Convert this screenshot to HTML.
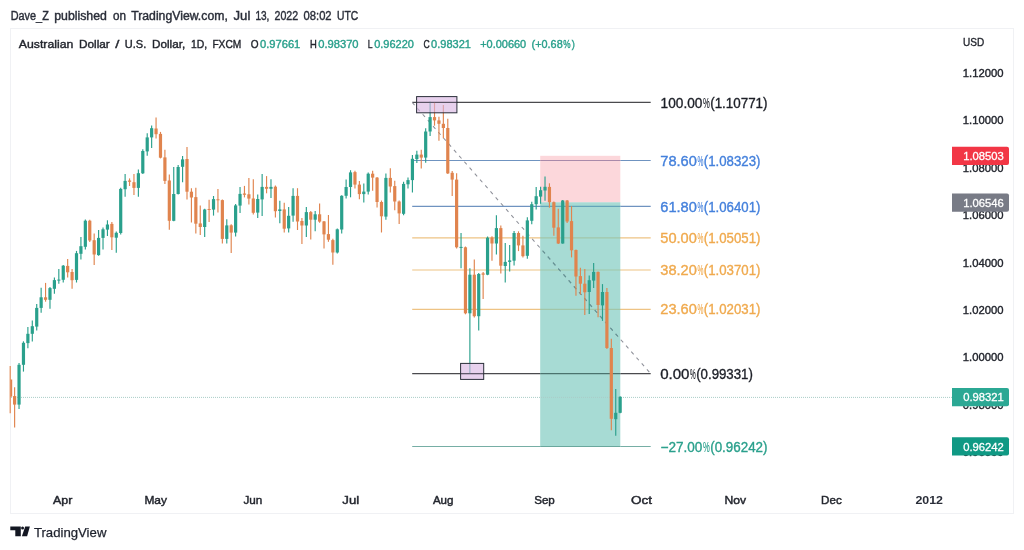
<!DOCTYPE html>
<html lang="en"><head><meta charset="utf-8"><title>AUDUSD chart - TradingView</title>
<style>html,body{margin:0;padding:0;background:#fff;}body{width:1024px;height:550px;overflow:hidden;font-family:'Liberation Sans', sans-serif;}svg{display:block;}text{font-family:'Liberation Sans', sans-serif;}</style>
</head><body>
<svg width="1024" height="550" viewBox="0 0 1024 550">
<rect x="0" y="0" width="1024" height="550" fill="#ffffff"/>
<rect x="10.5" y="28.5" width="1003" height="485" fill="#ffffff" stroke="#f0f1f4" stroke-width="1"/>
<g id="header">
<text x="10.7" y="19.9" font-size="12" fill="#2a2e39" textLength="38.1" lengthAdjust="spacingAndGlyphs" stroke="#2a2e39" stroke-width="0.4">Dave_Z</text>
<text x="54.2" y="19.9" font-size="12" fill="#2a2e39" textLength="52.7" lengthAdjust="spacingAndGlyphs" stroke="#2a2e39" stroke-width="0.4">published</text>
<text x="113" y="19.9" font-size="12" fill="#2a2e39" textLength="13" lengthAdjust="spacingAndGlyphs" stroke="#2a2e39" stroke-width="0.4">on</text>
<text x="131.2" y="19.9" font-size="12" fill="#2a2e39" textLength="96.6" lengthAdjust="spacingAndGlyphs" stroke="#2a2e39" stroke-width="0.4">TradingView.com,</text>
<text x="233.5" y="19.9" font-size="12" fill="#2a2e39" textLength="16.8" lengthAdjust="spacingAndGlyphs" stroke="#2a2e39" stroke-width="0.4">Jul</text>
<text x="255.4" y="19.9" font-size="12" fill="#2a2e39" textLength="14" lengthAdjust="spacingAndGlyphs" stroke="#2a2e39" stroke-width="0.4">13,</text>
<text x="274.5" y="19.9" font-size="12" fill="#2a2e39" textLength="23.6" lengthAdjust="spacingAndGlyphs" stroke="#2a2e39" stroke-width="0.4">2022</text>
<text x="303.6" y="19.9" font-size="12" fill="#2a2e39" textLength="28" lengthAdjust="spacingAndGlyphs" stroke="#2a2e39" stroke-width="0.4">08:02</text>
<text x="337.1" y="19.9" font-size="12" fill="#2a2e39" textLength="21.2" lengthAdjust="spacingAndGlyphs" stroke="#2a2e39" stroke-width="0.4">UTC</text>
</g>
<g id="legend">
<text x="18.8" y="47.8" font-size="11" fill="#23262e" textLength="54.5" lengthAdjust="spacingAndGlyphs" stroke="#23262e" stroke-width="0.38">Australian</text>
<text x="79" y="47.8" font-size="11" fill="#23262e" textLength="30.8" lengthAdjust="spacingAndGlyphs" stroke="#23262e" stroke-width="0.38">Dollar</text>
<text x="115.2" y="47.8" font-size="11" fill="#23262e" textLength="4.1" lengthAdjust="spacingAndGlyphs" stroke="#23262e" stroke-width="0.38">/</text>
<text x="124.8" y="47.8" font-size="11" fill="#23262e" textLength="21.4" lengthAdjust="spacingAndGlyphs" stroke="#23262e" stroke-width="0.38">U.S.</text>
<text x="152" y="47.8" font-size="11" fill="#23262e" textLength="33.2" lengthAdjust="spacingAndGlyphs" stroke="#23262e" stroke-width="0.38">Dollar,</text>
<text x="190.9" y="47.8" font-size="11" fill="#23262e" textLength="16.2" lengthAdjust="spacingAndGlyphs" stroke="#23262e" stroke-width="0.38">1D,</text>
<text x="212.4" y="47.8" font-size="11" fill="#23262e" textLength="28.9" lengthAdjust="spacingAndGlyphs" stroke="#23262e" stroke-width="0.38">FXCM</text>
<text x="250.8" y="47.8" font-size="11" fill="#23262e" textLength="7.8" lengthAdjust="spacingAndGlyphs" stroke="#23262e" stroke-width="0.38">O</text>
<text x="260" y="47.8" font-size="11" fill="#2aa08c" textLength="40.3" lengthAdjust="spacingAndGlyphs" stroke="#2aa08c" stroke-width="0.38">0.97661</text>
<text x="310.1" y="47.8" font-size="11" fill="#23262e" textLength="6.8" lengthAdjust="spacingAndGlyphs" stroke="#23262e" stroke-width="0.38">H</text>
<text x="318.2" y="47.8" font-size="11" fill="#2aa08c" textLength="40.4" lengthAdjust="spacingAndGlyphs" stroke="#2aa08c" stroke-width="0.38">0.98370</text>
<text x="367.8" y="47.8" font-size="11" fill="#23262e" textLength="4.8" lengthAdjust="spacingAndGlyphs" stroke="#23262e" stroke-width="0.38">L</text>
<text x="374.2" y="47.8" font-size="11" fill="#2aa08c" textLength="39.7" lengthAdjust="spacingAndGlyphs" stroke="#2aa08c" stroke-width="0.38">0.96220</text>
<text x="423.4" y="47.8" font-size="11" fill="#23262e" textLength="6.2" lengthAdjust="spacingAndGlyphs" stroke="#23262e" stroke-width="0.38">C</text>
<text x="431.1" y="47.8" font-size="11" fill="#2aa08c" textLength="39.8" lengthAdjust="spacingAndGlyphs" stroke="#2aa08c" stroke-width="0.38">0.98321</text>
<text x="480.2" y="47.8" font-size="11" fill="#2aa08c" textLength="46" lengthAdjust="spacingAndGlyphs" stroke="#2aa08c" stroke-width="0.38">+0.00660</text>
<text x="531.6" y="47.8" font-size="11" fill="#2aa08c" textLength="31.1" lengthAdjust="spacingAndGlyphs" stroke="#2aa08c" stroke-width="0.38">(+0.68</text>
<text x="563.3" y="47.8" font-size="11" fill="#2aa08c" textLength="7.3" lengthAdjust="spacingAndGlyphs" stroke="#2aa08c" stroke-width="0.38">%</text>
<text x="571.8" y="47.8" font-size="11" fill="#2aa08c" textLength="3.1" lengthAdjust="spacingAndGlyphs" stroke="#2aa08c" stroke-width="0.38">)</text>
</g>
<defs><clipPath id="inpos"><rect x="540.2" y="155.8" width="80.1" height="290.7"/></clipPath></defs>
<g id="fib-under" fill="none">
<line x1="412.2" y1="237.8" x2="650.7" y2="237.8" stroke="#eec384" stroke-width="1.2"/>
<line x1="412.2" y1="270" x2="650.7" y2="270" stroke="#eec384" stroke-width="1.2"/>
<line x1="412.2" y1="309.3" x2="650.7" y2="309.3" stroke="#eec384" stroke-width="1.2"/>
</g>
<g id="position" fill-opacity="0.65">
<rect x="540.2" y="155.8" width="80.1" height="46.5" fill="#fac1c8"/>
<rect x="540.2" y="202.3" width="80.1" height="244.2" fill="#78c8bd"/>
</g>
<g id="fib-over" fill="none">
<line x1="412.2" y1="102.4" x2="650.7" y2="102.4" stroke="#4a4a4e" stroke-width="1.25"/>
<path d="M412.2 160.5H540.2M620.3 160.5H650.7" stroke="#6f93c0" stroke-width="1.15"/>
<path d="M540.2 160.5H620.3" stroke="#a98aaa" stroke-width="1.15"/>
<path d="M412.2 206.4H540.2M620.3 206.4H650.7" stroke="#6f93c0" stroke-width="1.15"/>
<path d="M540.2 206.4H620.3" stroke="#64a5b9" stroke-width="1.15"/>
<path d="M412.2 373.7H540.2M620.3 373.7H650.7" stroke="#4a4a4e" stroke-width="1.25"/>
<path d="M540.2 373.7H620.3" stroke="#4b736e" stroke-width="1.25"/>
<path d="M412.2 446.5H540.2M620.3 446.5H650.7" stroke="#76aea5" stroke-width="1.2"/>
<path d="M540.2 446.5H620.3" stroke="#6aa79d" stroke-width="1.2"/>
<line x1="412.2" y1="102.4" x2="650.7" y2="373.7" stroke-width="1.05" stroke-dasharray="3.6 4.3" stroke="#8e9099"/>
<line x1="412.2" y1="102.4" x2="650.7" y2="373.7" stroke-width="1.05" stroke-dasharray="3.6 4.3" stroke="#5f9696" clip-path="url(#inpos)"/>
</g>
<line x1="11" y1="397.4" x2="952" y2="397.4" stroke="#a9cdc7" stroke-width="1" stroke-dasharray="1 1"/>
<g id="candles">
<path d="M10.2 366.1V413.3" stroke="#e0844e" stroke-width="1.15"/><rect x="10.5" y="379.5" width="1.7" height="17.2" fill="#e0844e"/>
<path d="M14.62 387.2V427.6" stroke="#e0844e" stroke-width="1.15"/><rect x="13.02" y="396.1" width="3.2" height="8.5" fill="#e0844e"/>
<path d="M19.04 363V408.9" stroke="#2aa08c" stroke-width="1.15"/><rect x="17.44" y="364.8" width="3.2" height="39.8" fill="#2aa08c"/>
<path d="M23.46 341.3V371.6" stroke="#2aa08c" stroke-width="1.15"/><rect x="21.86" y="342.8" width="3.2" height="22" fill="#2aa08c"/>
<path d="M27.88 327V348.3" stroke="#2aa08c" stroke-width="1.15"/><rect x="26.28" y="333.8" width="3.2" height="9.3" fill="#2aa08c"/>
<path d="M32.3 320.6V341.5" stroke="#2aa08c" stroke-width="1.15"/><rect x="30.7" y="326.2" width="3.2" height="7.6" fill="#2aa08c"/>
<path d="M36.72 304V330.6" stroke="#2aa08c" stroke-width="1.15"/><rect x="35.12" y="307.9" width="3.2" height="18.7" fill="#2aa08c"/>
<path d="M41.14 287.7V312.8" stroke="#2aa08c" stroke-width="1.15"/><rect x="39.54" y="297.3" width="3.2" height="10.6" fill="#2aa08c"/>
<path d="M45.56 282.9V301.7" stroke="#e0844e" stroke-width="1.15"/><rect x="43.96" y="297.3" width="3.2" height="2.5" fill="#e0844e"/>
<path d="M49.98 287.1V308.7" stroke="#2aa08c" stroke-width="1.15"/><rect x="48.38" y="288.1" width="3.2" height="11.7" fill="#2aa08c"/>
<path d="M54.4 277.5V293.7" stroke="#2aa08c" stroke-width="1.15"/><rect x="52.8" y="280.1" width="3.2" height="8.7" fill="#2aa08c"/>
<path d="M58.82 269.1V283.7" stroke="#2aa08c" stroke-width="1.15"/><rect x="57.22" y="279.6" width="3.2" height="1" fill="#2aa08c"/>
<path d="M63.24 265V282.4" stroke="#2aa08c" stroke-width="1.15"/><rect x="61.64" y="265.7" width="3.2" height="14.1" fill="#2aa08c"/>
<path d="M67.66 258.9V277.6" stroke="#e0844e" stroke-width="1.15"/><rect x="66.06" y="265.9" width="3.2" height="6.4" fill="#e0844e"/>
<path d="M72.08 269.1V288.8" stroke="#e0844e" stroke-width="1.15"/><rect x="70.48" y="272" width="3.2" height="8.2" fill="#e0844e"/>
<path d="M76.5 250.9V282.5" stroke="#2aa08c" stroke-width="1.15"/><rect x="74.9" y="253.2" width="3.2" height="26.7" fill="#2aa08c"/>
<path d="M80.92 236.9V259.6" stroke="#2aa08c" stroke-width="1.15"/><rect x="79.32" y="246.2" width="3.2" height="7.6" fill="#2aa08c"/>
<path d="M85.34 219.5V249.6" stroke="#2aa08c" stroke-width="1.15"/><rect x="83.74" y="220.7" width="3.2" height="26.1" fill="#2aa08c"/>
<path d="M89.76 219.8V242" stroke="#e0844e" stroke-width="1.15"/><rect x="88.16" y="220.7" width="3.2" height="19.8" fill="#e0844e"/>
<path d="M94.18 233.5V264.9" stroke="#e0844e" stroke-width="1.15"/><rect x="92.58" y="240.2" width="3.2" height="14.3" fill="#e0844e"/>
<path d="M98.6 230V255.7" stroke="#2aa08c" stroke-width="1.15"/><rect x="97" y="237.9" width="3.2" height="17.2" fill="#2aa08c"/>
<path d="M103.02 227.5V249.4" stroke="#2aa08c" stroke-width="1.15"/><rect x="101.42" y="229.3" width="3.2" height="8.6" fill="#2aa08c"/>
<path d="M107.44 220.3V236" stroke="#2aa08c" stroke-width="1.15"/><rect x="105.84" y="224.5" width="3.2" height="5.1" fill="#2aa08c"/>
<path d="M111.86 222V250" stroke="#e0844e" stroke-width="1.15"/><rect x="110.26" y="223.9" width="3.2" height="13.4" fill="#e0844e"/>
<path d="M116.28 231.6V252.8" stroke="#2aa08c" stroke-width="1.15"/><rect x="114.68" y="232.8" width="3.2" height="4.9" fill="#2aa08c"/>
<path d="M120.7 187.7V234.6" stroke="#2aa08c" stroke-width="1.15"/><rect x="119.1" y="188.9" width="3.2" height="44.1" fill="#2aa08c"/>
<path d="M125.12 173.9V196.8" stroke="#2aa08c" stroke-width="1.15"/><rect x="123.52" y="180.9" width="3.2" height="8.3" fill="#2aa08c"/>
<path d="M129.54 178.4V186" stroke="#e0844e" stroke-width="1.15"/><rect x="127.94" y="180.5" width="3.2" height="1.3" fill="#e0844e"/>
<path d="M133.96 173.9V194.9" stroke="#e0844e" stroke-width="1.15"/><rect x="132.36" y="182.2" width="3.2" height="5.7" fill="#e0844e"/>
<path d="M138.38 169.5V196.8" stroke="#2aa08c" stroke-width="1.15"/><rect x="136.78" y="173.2" width="3.2" height="14.7" fill="#2aa08c"/>
<path d="M142.8 149.2V173.9" stroke="#2aa08c" stroke-width="1.15"/><rect x="141.2" y="151" width="3.2" height="22.3" fill="#2aa08c"/>
<path d="M147.22 133.2V155.8" stroke="#2aa08c" stroke-width="1.15"/><rect x="145.62" y="137.4" width="3.2" height="14" fill="#2aa08c"/>
<path d="M151.64 125.5V147.9" stroke="#2aa08c" stroke-width="1.15"/><rect x="150.04" y="128.2" width="3.2" height="9.2" fill="#2aa08c"/>
<path d="M156.06 117.4V138.6" stroke="#e0844e" stroke-width="1.15"/><rect x="154.46" y="128.5" width="3.2" height="5.7" fill="#e0844e"/>
<path d="M160.48 131.9V158.4" stroke="#e0844e" stroke-width="1.15"/><rect x="158.88" y="133.9" width="3.2" height="23.8" fill="#e0844e"/>
<path d="M164.9 149.7V184.1" stroke="#e0844e" stroke-width="1.15"/><rect x="163.3" y="157.4" width="3.2" height="23.5" fill="#e0844e"/>
<path d="M169.32 174.4V229.7" stroke="#e0844e" stroke-width="1.15"/><rect x="167.72" y="180.5" width="3.2" height="40.3" fill="#e0844e"/>
<path d="M173.74 166.9V221.3" stroke="#2aa08c" stroke-width="1.15"/><rect x="172.14" y="194" width="3.2" height="26.8" fill="#2aa08c"/>
<path d="M178.16 165V194.5" stroke="#2aa08c" stroke-width="1.15"/><rect x="176.56" y="167" width="3.2" height="27" fill="#2aa08c"/>
<path d="M182.58 156.1V182.2" stroke="#2aa08c" stroke-width="1.15"/><rect x="180.98" y="159.4" width="3.2" height="7.4" fill="#2aa08c"/>
<path d="M187 146.9V199.4" stroke="#e0844e" stroke-width="1.15"/><rect x="185.4" y="159" width="3.2" height="32.7" fill="#e0844e"/>
<path d="M191.42 188.2V222.6" stroke="#e0844e" stroke-width="1.15"/><rect x="189.82" y="191.7" width="3.2" height="5.8" fill="#e0844e"/>
<path d="M195.84 187.7V233.5" stroke="#e0844e" stroke-width="1.15"/><rect x="194.24" y="197.1" width="3.2" height="26.6" fill="#e0844e"/>
<path d="M200.26 205.4V235.1" stroke="#e0844e" stroke-width="1.15"/><rect x="198.66" y="223.4" width="3.2" height="3.6" fill="#e0844e"/>
<path d="M204.68 208.8V237" stroke="#2aa08c" stroke-width="1.15"/><rect x="203.08" y="209.5" width="3.2" height="17.5" fill="#2aa08c"/>
<path d="M209.1 199.8V222.1" stroke="#e0844e" stroke-width="1.15"/><rect x="207.5" y="209" width="3.2" height="1" fill="#e0844e"/>
<path d="M213.52 196V215.6" stroke="#2aa08c" stroke-width="1.15"/><rect x="211.92" y="199.1" width="3.2" height="10.5" fill="#2aa08c"/>
<path d="M217.94 188.9V212.4" stroke="#e0844e" stroke-width="1.15"/><rect x="216.34" y="199.3" width="3.2" height="1" fill="#e0844e"/>
<path d="M222.36 199.5V243.4" stroke="#e0844e" stroke-width="1.15"/><rect x="220.76" y="200.1" width="3.2" height="38.8" fill="#e0844e"/>
<path d="M226.78 219.2V243.4" stroke="#2aa08c" stroke-width="1.15"/><rect x="225.18" y="225.4" width="3.2" height="13.5" fill="#2aa08c"/>
<path d="M231.2 224.3V252.9" stroke="#e0844e" stroke-width="1.15"/><rect x="229.6" y="225.3" width="3.2" height="7.3" fill="#e0844e"/>
<path d="M235.62 204.1V236.4" stroke="#2aa08c" stroke-width="1.15"/><rect x="234.02" y="205.4" width="3.2" height="27.2" fill="#2aa08c"/>
<path d="M240.04 186.9V213" stroke="#2aa08c" stroke-width="1.15"/><rect x="238.44" y="193.9" width="3.2" height="11.7" fill="#2aa08c"/>
<path d="M244.46 185.9V197.4" stroke="#e0844e" stroke-width="1.15"/><rect x="242.86" y="193.5" width="3.2" height="1.3" fill="#e0844e"/>
<path d="M248.88 178V204.6" stroke="#e0844e" stroke-width="1.15"/><rect x="247.28" y="194.3" width="3.2" height="4.3" fill="#e0844e"/>
<path d="M253.3 179.3V214.5" stroke="#e0844e" stroke-width="1.15"/><rect x="251.7" y="198.5" width="3.2" height="14.3" fill="#e0844e"/>
<path d="M257.72 194.6V218.1" stroke="#2aa08c" stroke-width="1.15"/><rect x="256.12" y="199" width="3.2" height="13.6" fill="#2aa08c"/>
<path d="M262.14 173.9V216" stroke="#2aa08c" stroke-width="1.15"/><rect x="260.54" y="186.9" width="3.2" height="12.5" fill="#2aa08c"/>
<path d="M266.56 176.1V193.3" stroke="#e0844e" stroke-width="1.15"/><rect x="264.96" y="186.9" width="3.2" height="1.9" fill="#e0844e"/>
<path d="M270.98 179.3V198" stroke="#2aa08c" stroke-width="1.15"/><rect x="269.38" y="186.9" width="3.2" height="1.9" fill="#2aa08c"/>
<path d="M275.4 185.4V217.4" stroke="#e0844e" stroke-width="1.15"/><rect x="273.8" y="186.7" width="3.2" height="24.5" fill="#e0844e"/>
<path d="M279.82 200.7V223.3" stroke="#2aa08c" stroke-width="1.15"/><rect x="278.22" y="209.4" width="3.2" height="1.6" fill="#2aa08c"/>
<path d="M284.24 202.8V232.6" stroke="#e0844e" stroke-width="1.15"/><rect x="282.64" y="209.4" width="3.2" height="19.3" fill="#e0844e"/>
<path d="M288.66 207V232.6" stroke="#2aa08c" stroke-width="1.15"/><rect x="287.06" y="215.8" width="3.2" height="12.6" fill="#2aa08c"/>
<path d="M293.08 188.2V221.7" stroke="#2aa08c" stroke-width="1.15"/><rect x="291.48" y="195.9" width="3.2" height="19.7" fill="#2aa08c"/>
<path d="M297.5 188.2V230" stroke="#e0844e" stroke-width="1.15"/><rect x="295.9" y="195.9" width="3.2" height="25.6" fill="#e0844e"/>
<path d="M301.92 218V244" stroke="#e0844e" stroke-width="1.15"/><rect x="300.32" y="221" width="3.2" height="4.5" fill="#e0844e"/>
<path d="M306.34 207V236.9" stroke="#2aa08c" stroke-width="1.15"/><rect x="304.74" y="212.1" width="3.2" height="13.4" fill="#2aa08c"/>
<path d="M310.76 211V239.5" stroke="#e0844e" stroke-width="1.15"/><rect x="309.16" y="212.1" width="3.2" height="7.6" fill="#e0844e"/>
<path d="M315.18 211.1V231.2" stroke="#2aa08c" stroke-width="1.15"/><rect x="313.58" y="214.3" width="3.2" height="5.4" fill="#2aa08c"/>
<path d="M319.6 203.5V222.7" stroke="#e0844e" stroke-width="1.15"/><rect x="318" y="214.3" width="3.2" height="7.3" fill="#e0844e"/>
<path d="M324.02 221V248.4" stroke="#e0844e" stroke-width="1.15"/><rect x="322.42" y="221.4" width="3.2" height="13" fill="#e0844e"/>
<path d="M328.44 215V241.8" stroke="#e0844e" stroke-width="1.15"/><rect x="326.84" y="234.1" width="3.2" height="5.6" fill="#e0844e"/>
<path d="M332.86 238.8V264.7" stroke="#e0844e" stroke-width="1.15"/><rect x="331.26" y="240.1" width="3.2" height="12.4" fill="#e0844e"/>
<path d="M337.28 228.6V253.5" stroke="#2aa08c" stroke-width="1.15"/><rect x="335.68" y="229.3" width="3.2" height="23.2" fill="#2aa08c"/>
<path d="M341.7 195.2V233.4" stroke="#2aa08c" stroke-width="1.15"/><rect x="340.1" y="195.8" width="3.2" height="33.7" fill="#2aa08c"/>
<path d="M346.12 179.4V198.6" stroke="#2aa08c" stroke-width="1.15"/><rect x="344.52" y="187" width="3.2" height="8.8" fill="#2aa08c"/>
<path d="M350.54 170.2V197.3" stroke="#2aa08c" stroke-width="1.15"/><rect x="348.94" y="172.4" width="3.2" height="14.6" fill="#2aa08c"/>
<path d="M354.96 170.8V188.4" stroke="#e0844e" stroke-width="1.15"/><rect x="353.36" y="172.1" width="3.2" height="12.5" fill="#e0844e"/>
<path d="M359.38 181V199.2" stroke="#e0844e" stroke-width="1.15"/><rect x="357.78" y="184.6" width="3.2" height="9.5" fill="#e0844e"/>
<path d="M363.8 183.5V202.4" stroke="#2aa08c" stroke-width="1.15"/><rect x="362.2" y="191.6" width="3.2" height="2.5" fill="#2aa08c"/>
<path d="M368.22 172.5V194.5" stroke="#2aa08c" stroke-width="1.15"/><rect x="366.62" y="173.7" width="3.2" height="17.9" fill="#2aa08c"/>
<path d="M372.64 170.8V190.7" stroke="#e0844e" stroke-width="1.15"/><rect x="371.04" y="173.7" width="3.2" height="3.9" fill="#e0844e"/>
<path d="M377.06 176.9V207.5" stroke="#e0844e" stroke-width="1.15"/><rect x="375.46" y="177.6" width="3.2" height="24.4" fill="#e0844e"/>
<path d="M381.48 200.5V232.5" stroke="#e0844e" stroke-width="1.15"/><rect x="379.88" y="202" width="3.2" height="14.3" fill="#e0844e"/>
<path d="M385.9 173.4V219.7" stroke="#2aa08c" stroke-width="1.15"/><rect x="384.3" y="177.9" width="3.2" height="38.7" fill="#2aa08c"/>
<path d="M390.32 168.3V192.5" stroke="#e0844e" stroke-width="1.15"/><rect x="388.72" y="177.9" width="3.2" height="8.6" fill="#e0844e"/>
<path d="M394.74 180.7V210.2" stroke="#e0844e" stroke-width="1.15"/><rect x="393.14" y="186.1" width="3.2" height="15.4" fill="#e0844e"/>
<path d="M399.16 200.5V223.9" stroke="#e0844e" stroke-width="1.15"/><rect x="397.56" y="201.5" width="3.2" height="11.9" fill="#e0844e"/>
<path d="M403.58 181.8V215.3" stroke="#2aa08c" stroke-width="1.15"/><rect x="401.98" y="183.9" width="3.2" height="29.9" fill="#2aa08c"/>
<path d="M408 177.6V188.6" stroke="#2aa08c" stroke-width="1.15"/><rect x="406.4" y="180.1" width="3.2" height="4.2" fill="#2aa08c"/>
<path d="M412.42 155V192.5" stroke="#2aa08c" stroke-width="1.15"/><rect x="410.82" y="158.8" width="3.2" height="21.3" fill="#2aa08c"/>
<path d="M416.84 150.7V162.9" stroke="#2aa08c" stroke-width="1.15"/><rect x="415.24" y="154.6" width="3.2" height="4.5" fill="#2aa08c"/>
<path d="M421.26 149.8V168.6" stroke="#e0844e" stroke-width="1.15"/><rect x="419.66" y="154.6" width="3.2" height="3" fill="#e0844e"/>
<path d="M425.68 128.3V162.7" stroke="#2aa08c" stroke-width="1.15"/><rect x="424.08" y="131.5" width="3.2" height="26.1" fill="#2aa08c"/>
<path d="M430.1 101.6V135.9" stroke="#2aa08c" stroke-width="1.15"/><rect x="428.5" y="117.1" width="3.2" height="14.4" fill="#2aa08c"/>
<path d="M434.52 102.2V125.7" stroke="#e0844e" stroke-width="1.15"/><rect x="432.92" y="117.1" width="3.2" height="3.3" fill="#e0844e"/>
<path d="M438.94 116.8V140.8" stroke="#e0844e" stroke-width="1.15"/><rect x="437.34" y="120.4" width="3.2" height="3.4" fill="#e0844e"/>
<path d="M443.36 105.1V138.2" stroke="#e0844e" stroke-width="1.15"/><rect x="441.76" y="123.8" width="3.2" height="4.2" fill="#e0844e"/>
<path d="M447.78 118.7V174" stroke="#e0844e" stroke-width="1.15"/><rect x="446.18" y="128" width="3.2" height="45.4" fill="#e0844e"/>
<path d="M452.2 171.1V196.1" stroke="#e0844e" stroke-width="1.15"/><rect x="450.6" y="172.8" width="3.2" height="6.8" fill="#e0844e"/>
<path d="M456.62 173.3V248.6" stroke="#e0844e" stroke-width="1.15"/><rect x="455.02" y="179.6" width="3.2" height="67.7" fill="#e0844e"/>
<path d="M461.04 232.9V268.3" stroke="#2aa08c" stroke-width="1.15"/><rect x="459.44" y="246.9" width="3.2" height="1" fill="#2aa08c"/>
<path d="M465.46 246.5V314.3" stroke="#e0844e" stroke-width="1.15"/><rect x="463.86" y="247.3" width="3.2" height="66" fill="#e0844e"/>
<path d="M469.88 268.3V373.7" stroke="#2aa08c" stroke-width="1.15"/><rect x="468.28" y="274.7" width="3.2" height="38.6" fill="#2aa08c"/>
<path d="M474.3 259.4V317.5" stroke="#e0844e" stroke-width="1.15"/><rect x="472.7" y="274.7" width="3.2" height="41.5" fill="#e0844e"/>
<path d="M478.72 273V330.6" stroke="#2aa08c" stroke-width="1.15"/><rect x="477.12" y="274" width="3.2" height="42.2" fill="#2aa08c"/>
<path d="M483.14 271.9V299" stroke="#e0844e" stroke-width="1.15"/><rect x="481.54" y="273.4" width="3.2" height="1.3" fill="#e0844e"/>
<path d="M487.56 236.5V275.2" stroke="#2aa08c" stroke-width="1.15"/><rect x="485.96" y="237.7" width="3.2" height="37" fill="#2aa08c"/>
<path d="M491.98 236.2V260.7" stroke="#e0844e" stroke-width="1.15"/><rect x="490.38" y="237.5" width="3.2" height="6" fill="#e0844e"/>
<path d="M496.4 215.3V254.5" stroke="#2aa08c" stroke-width="1.15"/><rect x="494.8" y="228.1" width="3.2" height="15.4" fill="#2aa08c"/>
<path d="M500.82 225.5V273.6" stroke="#e0844e" stroke-width="1.15"/><rect x="499.22" y="228.1" width="3.2" height="37.6" fill="#e0844e"/>
<path d="M505.24 243.1V282.6" stroke="#2aa08c" stroke-width="1.15"/><rect x="503.64" y="261.9" width="3.2" height="4.1" fill="#2aa08c"/>
<path d="M509.66 245.1V271.5" stroke="#2aa08c" stroke-width="1.15"/><rect x="508.06" y="260.4" width="3.2" height="1.5" fill="#2aa08c"/>
<path d="M514.08 230.9V265.5" stroke="#2aa08c" stroke-width="1.15"/><rect x="512.48" y="233" width="3.2" height="27.7" fill="#2aa08c"/>
<path d="M518.5 231.3V251.1" stroke="#e0844e" stroke-width="1.15"/><rect x="516.9" y="233" width="3.2" height="12.4" fill="#e0844e"/>
<path d="M522.92 235.8V257.5" stroke="#e0844e" stroke-width="1.15"/><rect x="521.32" y="245.4" width="3.2" height="10.8" fill="#e0844e"/>
<path d="M527.34 217.2V258.7" stroke="#2aa08c" stroke-width="1.15"/><rect x="525.74" y="220.4" width="3.2" height="35.4" fill="#2aa08c"/>
<path d="M531.76 201.7V224.2" stroke="#2aa08c" stroke-width="1.15"/><rect x="530.16" y="204.2" width="3.2" height="16.6" fill="#2aa08c"/>
<path d="M536.18 186.9V209.6" stroke="#2aa08c" stroke-width="1.15"/><rect x="534.58" y="196.2" width="3.2" height="8" fill="#2aa08c"/>
<path d="M540.6 186.8V203.8" stroke="#2aa08c" stroke-width="1.15"/><rect x="539" y="190.2" width="3.2" height="6.4" fill="#2aa08c"/>
<path d="M545.02 176.6V200.7" stroke="#2aa08c" stroke-width="1.15"/><rect x="543.42" y="186.8" width="3.2" height="3.7" fill="#2aa08c"/>
<path d="M549.44 183.3V207.7" stroke="#e0844e" stroke-width="1.15"/><rect x="547.84" y="186.9" width="3.2" height="15.3" fill="#e0844e"/>
<path d="M553.86 201.5V235.7" stroke="#e0844e" stroke-width="1.15"/><rect x="552.26" y="202.2" width="3.2" height="25.5" fill="#e0844e"/>
<path d="M558.28 208.8V244" stroke="#e0844e" stroke-width="1.15"/><rect x="556.68" y="227.4" width="3.2" height="16.1" fill="#e0844e"/>
<path d="M562.7 200V243.8" stroke="#2aa08c" stroke-width="1.15"/><rect x="561.1" y="200.5" width="3.2" height="43" fill="#2aa08c"/>
<path d="M567.12 200V223.1" stroke="#e0844e" stroke-width="1.15"/><rect x="565.52" y="200.5" width="3.2" height="21" fill="#e0844e"/>
<path d="M571.54 206.1V257.4" stroke="#e0844e" stroke-width="1.15"/><rect x="569.94" y="221.1" width="3.2" height="29.2" fill="#e0844e"/>
<path d="M575.96 249.5V295.8" stroke="#e0844e" stroke-width="1.15"/><rect x="574.36" y="250" width="3.2" height="26.5" fill="#e0844e"/>
<path d="M580.38 267.8V294.6" stroke="#e0844e" stroke-width="1.15"/><rect x="578.78" y="276.1" width="3.2" height="7.6" fill="#e0844e"/>
<path d="M584.8 269.1V314.9" stroke="#e0844e" stroke-width="1.15"/><rect x="583.2" y="283.7" width="3.2" height="8.6" fill="#e0844e"/>
<path d="M589.22 275.5V314" stroke="#2aa08c" stroke-width="1.15"/><rect x="587.62" y="280.2" width="3.2" height="11.8" fill="#2aa08c"/>
<path d="M593.64 263V287.9" stroke="#2aa08c" stroke-width="1.15"/><rect x="592.04" y="271.9" width="3.2" height="8.7" fill="#2aa08c"/>
<path d="M598.06 271.5V317.3" stroke="#e0844e" stroke-width="1.15"/><rect x="596.46" y="271.9" width="3.2" height="33.1" fill="#e0844e"/>
<path d="M602.48 284.1V320.9" stroke="#2aa08c" stroke-width="1.15"/><rect x="600.88" y="292" width="3.2" height="13.4" fill="#2aa08c"/>
<path d="M606.9 287.9V348.9" stroke="#e0844e" stroke-width="1.15"/><rect x="605.3" y="292" width="3.2" height="56" fill="#e0844e"/>
<path d="M611.32 338.7V430.3" stroke="#e0844e" stroke-width="1.15"/><rect x="609.72" y="348" width="3.2" height="70.8" fill="#e0844e"/>
<path d="M615.74 388.9V435.8" stroke="#2aa08c" stroke-width="1.15"/><rect x="614.14" y="412.8" width="3.2" height="6.4" fill="#2aa08c"/>
<path d="M620.16 396.3V413.3" stroke="#2aa08c" stroke-width="1.15"/><rect x="618.56" y="396.8" width="3.2" height="16" fill="#2aa08c"/>
</g>
<g id="zones" fill="#d8b4e2" fill-opacity="0.62" stroke="#2a2e39" stroke-width="1">
<rect x="416.6" y="96.6" width="40.3" height="16.2"/>
<rect x="460.6" y="363.4" width="23.1" height="16"/>
</g>
<line x1="416" y1="102.4" x2="458" y2="102.4" stroke="#30333c" stroke-opacity="0.7"/>
<line x1="460" y1="373.7" x2="484" y2="373.7" stroke="#30333c" stroke-opacity="0.7"/>
<g id="fiblabels">
<text x="660.6" y="107.7" font-size="14" fill="#1c1f27" textLength="41.8" lengthAdjust="spacingAndGlyphs" stroke="#1c1f27" stroke-width="0.35">100.00</text>
<text x="702.9" y="107.7" font-size="14" fill="#1c1f27" textLength="6.8" lengthAdjust="spacingAndGlyphs" stroke="#1c1f27" stroke-width="0.15">%</text>
<text x="710.2" y="107.7" font-size="14" fill="#1c1f27" textLength="57.3" lengthAdjust="spacingAndGlyphs" stroke="#1c1f27" stroke-width="0.35">(1.10771)</text>
<text x="660.3" y="165.7" font-size="14" fill="#4480dc" textLength="36.6" lengthAdjust="spacingAndGlyphs" stroke="#4480dc" stroke-width="0.35">78.60</text>
<text x="697.4" y="165.7" font-size="14" fill="#4480dc" textLength="5.9" lengthAdjust="spacingAndGlyphs" stroke="#4480dc" stroke-width="0.15">%</text>
<text x="703.8" y="165.7" font-size="14" fill="#4480dc" textLength="56.6" lengthAdjust="spacingAndGlyphs" stroke="#4480dc" stroke-width="0.35">(1.08323)</text>
<text x="660.3" y="211.5" font-size="14" fill="#4480dc" textLength="36.6" lengthAdjust="spacingAndGlyphs" stroke="#4480dc" stroke-width="0.35">61.80</text>
<text x="697.4" y="211.5" font-size="14" fill="#4480dc" textLength="5.9" lengthAdjust="spacingAndGlyphs" stroke="#4480dc" stroke-width="0.15">%</text>
<text x="703.8" y="211.5" font-size="14" fill="#4480dc" textLength="56.6" lengthAdjust="spacingAndGlyphs" stroke="#4480dc" stroke-width="0.35">(1.06401)</text>
<text x="660.3" y="242.8" font-size="14" fill="#f0aa4e" textLength="36.6" lengthAdjust="spacingAndGlyphs" stroke="#f0aa4e" stroke-width="0.35">50.00</text>
<text x="697.4" y="242.8" font-size="14" fill="#f0aa4e" textLength="5.9" lengthAdjust="spacingAndGlyphs" stroke="#f0aa4e" stroke-width="0.15">%</text>
<text x="703.8" y="242.8" font-size="14" fill="#f0aa4e" textLength="56.6" lengthAdjust="spacingAndGlyphs" stroke="#f0aa4e" stroke-width="0.35">(1.05051)</text>
<text x="660.3" y="274.9" font-size="14" fill="#f0aa4e" textLength="36.6" lengthAdjust="spacingAndGlyphs" stroke="#f0aa4e" stroke-width="0.35">38.20</text>
<text x="697.4" y="274.9" font-size="14" fill="#f0aa4e" textLength="5.9" lengthAdjust="spacingAndGlyphs" stroke="#f0aa4e" stroke-width="0.15">%</text>
<text x="703.8" y="274.9" font-size="14" fill="#f0aa4e" textLength="56.6" lengthAdjust="spacingAndGlyphs" stroke="#f0aa4e" stroke-width="0.35">(1.03701)</text>
<text x="660.3" y="314.4" font-size="14" fill="#f0aa4e" textLength="36.6" lengthAdjust="spacingAndGlyphs" stroke="#f0aa4e" stroke-width="0.35">23.60</text>
<text x="697.4" y="314.4" font-size="14" fill="#f0aa4e" textLength="5.9" lengthAdjust="spacingAndGlyphs" stroke="#f0aa4e" stroke-width="0.15">%</text>
<text x="703.8" y="314.4" font-size="14" fill="#f0aa4e" textLength="56.6" lengthAdjust="spacingAndGlyphs" stroke="#f0aa4e" stroke-width="0.35">(1.02031)</text>
<text x="660.2" y="378.9" font-size="14" fill="#1c1f27" textLength="29.3" lengthAdjust="spacingAndGlyphs" stroke="#1c1f27" stroke-width="0.35">0.00</text>
<text x="690" y="378.9" font-size="14" fill="#1c1f27" textLength="5.7" lengthAdjust="spacingAndGlyphs" stroke="#1c1f27" stroke-width="0.15">%</text>
<text x="696.2" y="378.9" font-size="14" fill="#1c1f27" textLength="56.7" lengthAdjust="spacingAndGlyphs" stroke="#1c1f27" stroke-width="0.35">(0.99331)</text>
<text x="660.6" y="452.1" font-size="14" fill="#2aa08c" textLength="41.8" lengthAdjust="spacingAndGlyphs" stroke="#2aa08c" stroke-width="0.35">−27.00</text>
<text x="702.9" y="452.1" font-size="14" fill="#2aa08c" textLength="6.8" lengthAdjust="spacingAndGlyphs" stroke="#2aa08c" stroke-width="0.15">%</text>
<text x="710.2" y="452.1" font-size="14" fill="#2aa08c" textLength="57.3" lengthAdjust="spacingAndGlyphs" stroke="#2aa08c" stroke-width="0.35">(0.96242)</text>
</g>
<g id="axis">
<text x="963.1" y="45.8" font-size="11.5" fill="#23262e" textLength="21.2" lengthAdjust="spacingAndGlyphs" stroke="#23262e" stroke-width="0.35">USD</text>
<text x="962.8" y="77.05" font-size="11.7" fill="#23262e" textLength="40.7" lengthAdjust="spacingAndGlyphs" stroke="#23262e" stroke-width="0.4">1.12000</text>
<text x="962.8" y="124.43" font-size="11.7" fill="#23262e" textLength="40.7" lengthAdjust="spacingAndGlyphs" stroke="#23262e" stroke-width="0.4">1.10000</text>
<text x="962.8" y="171.81" font-size="11.7" fill="#23262e" textLength="40.7" lengthAdjust="spacingAndGlyphs" stroke="#23262e" stroke-width="0.4">1.08000</text>
<text x="962.8" y="219.19" font-size="11.7" fill="#23262e" textLength="40.7" lengthAdjust="spacingAndGlyphs" stroke="#23262e" stroke-width="0.4">1.06000</text>
<text x="962.8" y="266.57" font-size="11.7" fill="#23262e" textLength="40.7" lengthAdjust="spacingAndGlyphs" stroke="#23262e" stroke-width="0.4">1.04000</text>
<text x="962.8" y="313.95" font-size="11.7" fill="#23262e" textLength="40.7" lengthAdjust="spacingAndGlyphs" stroke="#23262e" stroke-width="0.4">1.02000</text>
<text x="962.8" y="361.33" font-size="11.7" fill="#23262e" textLength="40.7" lengthAdjust="spacingAndGlyphs" stroke="#23262e" stroke-width="0.4">1.00000</text>
<text x="962.8" y="408.71" font-size="11.7" fill="#23262e" textLength="40.7" lengthAdjust="spacingAndGlyphs" stroke="#23262e" stroke-width="0.4">0.98000</text>
<text x="962.8" y="456.09" font-size="11.7" fill="#23262e" textLength="40.7" lengthAdjust="spacingAndGlyphs" stroke="#23262e" stroke-width="0.4">0.96000</text>
<path d="M952 146.8H1007a2 2 0 0 1 2 2V163a2 2 0 0 1 -2 2H952Z" fill="#f23645"/>
<text x="963.2" y="160.15" font-size="11.7" fill="#ffffff" textLength="40.7" lengthAdjust="spacingAndGlyphs" stroke="#ffffff" stroke-width="0.3">1.08503</text>
<path d="M952 193.6H1007a2 2 0 0 1 2 2V209.8a2 2 0 0 1 -2 2H952Z" fill="#787b86"/>
<text x="963.2" y="206.95" font-size="11.7" fill="#ffffff" textLength="40.7" lengthAdjust="spacingAndGlyphs" stroke="#ffffff" stroke-width="0.3">1.06546</text>
<path d="M952 388H1007a2 2 0 0 1 2 2V404.2a2 2 0 0 1 -2 2H952Z" fill="#2ba894"/>
<text x="963.2" y="401.35" font-size="11.7" fill="#ffffff" textLength="40.7" lengthAdjust="spacingAndGlyphs" stroke="#ffffff" stroke-width="0.3">0.98321</text>
<path d="M952 437.3H1007a2 2 0 0 1 2 2V453.5a2 2 0 0 1 -2 2H952Z" fill="#109984"/>
<text x="963.2" y="450.65" font-size="11.7" fill="#ffffff" textLength="40.7" lengthAdjust="spacingAndGlyphs" stroke="#ffffff" stroke-width="0.3">0.96242</text>
</g>
<g id="time">
<text x="53.1" y="503.9" font-size="11.7" fill="#23262e" textLength="19.3" lengthAdjust="spacingAndGlyphs" stroke="#23262e" stroke-width="0.45">Apr</text>
<text x="144.4" y="503.9" font-size="11.7" fill="#23262e" textLength="22.6" lengthAdjust="spacingAndGlyphs" stroke="#23262e" stroke-width="0.45">May</text>
<text x="243.4" y="503.9" font-size="11.7" fill="#23262e" textLength="18.9" lengthAdjust="spacingAndGlyphs" stroke="#23262e" stroke-width="0.45">Jun</text>
<text x="342.3" y="503.9" font-size="11.7" fill="#23262e" textLength="16.9" lengthAdjust="spacingAndGlyphs" stroke="#23262e" stroke-width="0.45">Jul</text>
<text x="432.9" y="503.9" font-size="11.7" fill="#23262e" textLength="20.6" lengthAdjust="spacingAndGlyphs" stroke="#23262e" stroke-width="0.45">Aug</text>
<text x="534.2" y="503.9" font-size="11.7" fill="#23262e" textLength="20.6" lengthAdjust="spacingAndGlyphs" stroke="#23262e" stroke-width="0.45">Sep</text>
<text x="631.1" y="503.9" font-size="11.7" fill="#23262e" textLength="20.9" lengthAdjust="spacingAndGlyphs" stroke="#23262e" stroke-width="0.45">Oct</text>
<text x="724.5" y="503.9" font-size="11.7" fill="#23262e" textLength="21.6" lengthAdjust="spacingAndGlyphs" stroke="#23262e" stroke-width="0.45">Nov</text>
<text x="821.1" y="503.9" font-size="11.7" fill="#23262e" textLength="20.6" lengthAdjust="spacingAndGlyphs" stroke="#23262e" stroke-width="0.45">Dec</text>
<text x="915.4" y="503.9" font-size="11.7" fill="#2a2e39" textLength="27.6" lengthAdjust="spacingAndGlyphs" font-weight="bold">2012</text>
</g>
<g id="logo">
<path d="M10.3 526.4H20.8V536.2H15.3V530.3H10.3Z" fill="#131722"/>
<circle cx="22.55" cy="527.9" r="1.5" fill="#131722"/>
<path d="M25.2 526.4H29.9L27.1 536.2H21.9Z" fill="#131722"/>
<text x="33.9" y="536.7" font-size="13.4" fill="#1e222d" textLength="72.5" lengthAdjust="spacingAndGlyphs" stroke="#1e222d" stroke-width="0.25">TradingView</text>
</g>
</svg>
</body></html>
